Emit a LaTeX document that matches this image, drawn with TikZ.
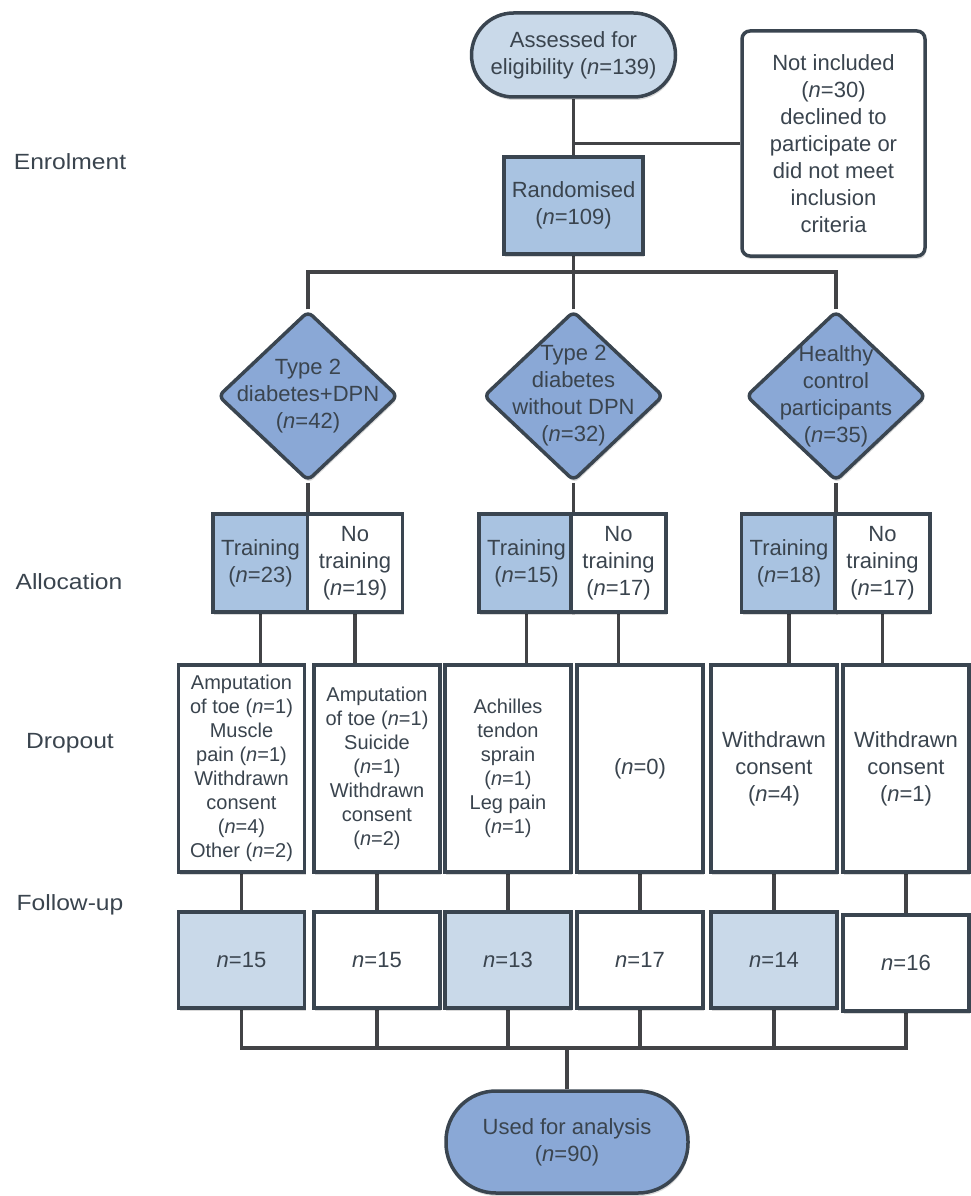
\documentclass[tikz,border=0pt]{standalone}
\usepackage{fontspec}
\setmainfont{Liberation Sans}
\newfontfamily\phasefont[FakeStretch=1.12]{Liberation Sans}
\definecolor{flowEdge}{RGB}{58,69,80}
\definecolor{flowLine}{RGB}{66,67,70}
\definecolor{flowInk}{RGB}{58,68,78}
\definecolor{flowPale}{RGB}{201,217,233}
\definecolor{flowMid}{RGB}{169,195,225}
\definecolor{flowDeep}{RGB}{138,168,214}
\usetikzlibrary{shapes.geometric,shadows,backgrounds,positioning}
\newcommand{\nval}[1]{(\textit{n}=#1)}
\newcommand{\nbare}[1]{\textit{n}=#1}

\begin{document}
\begin{tikzpicture}[x=1pt, y=-1pt,
  every node/.style={text=flowInk, align=center, font=\fontsize{22}{27}\selectfont},
  softshadow/.style={drop shadow={shadow xshift=1pt, shadow yshift=-3pt, opacity=0.15, fill=black}},
  flowbox/.style={rectangle, draw=flowEdge, line width=3.5pt, fill=white, inner sep=2pt, softshadow},
  pill/.style={flowbox, minimum width=#1},
  grpdiamond/.style={diamond, draw=flowEdge, fill=flowDeep, line width=3.5pt, rounded corners=6pt,
    minimum width=180pt, minimum height=170pt, inner sep=0pt, softshadow},
  armbox/.style={flowbox, minimum width=95pt, minimum height=98pt},
  dropbox/.style={flowbox, minimum width=126pt, minimum height=207pt},
  small/.style={font=\fontsize{20}{24}\selectfont},
  follbox/.style={flowbox, minimum width=126pt, minimum height=96pt},
  phase/.style={font=\phasefont\fontsize{22}{27}\selectfont},
  link/.style={draw=flowLine, line width=3.5pt}]
\useasboundingbox (0,0) rectangle (970,1196);

% phases
\node[phase] (phEnrol) at (70,162) {Enrolment};
\node[phase] (phAlloc) at (69,582) {Allocation};
\node[phase] (phDrop)  at (70,743) {Dropout};
\node[phase] (phFoll)  at (70,905) {Follow-up};

% enrolment
\node[flowbox, fill=flowPale, rounded corners=42pt, minimum width=204pt, minimum height=84pt]
  (assess) at (573.5,55) {Assessed for\\eligibility \nval{139}};
\node[flowbox, rounded corners=8pt, minimum width=183pt, minimum height=225pt]
  (notinc) at (833.5,143.5) {Not included\\\nval{30}\\declined to\\participate or\\did not meet\\inclusion\\criteria};
\node[flowbox, fill=flowMid, minimum width=139pt, minimum height=97pt]
  (rand) at (573.5,205.5) {Randomised\\\nval{109}};

% groups
\node[grpdiamond, label={center:Type 2\\diabetes+DPN\\\nval{42}}] (grpA) at (308,396) {};
\node[grpdiamond, label={center:Type 2\\diabetes\\without DPN\\\nval{32}}] (grpB) at (573.5,396) {};
\node[grpdiamond, label={center:Healthy\\control\\participants\\\nval{35}}] (grpC) at (836,396) {};

% allocation
\node[armbox, fill=flowMid] (trA)   at (260.5,563) {Training\\\nval{23}};
\node[armbox]               (notrA) at (355,563)   {No\\training\\\nval{19}};
\node[armbox, fill=flowMid] (trB)   at (526.5,563) {Training\\\nval{15}};
\node[armbox]               (notrB) at (618.5,563) {No\\training\\\nval{17}};
\node[armbox, fill=flowMid] (trC)   at (789,563)   {Training\\\nval{18}};
\node[armbox]               (notrC) at (882.5,563) {No\\training\\\nval{17}};

% dropout
\node[dropbox, small] (dropA1) at (241.5,768.5) {Amputation\\of toe \nval{1}\\Muscle\\pain \nval{1}\\Withdrawn\\consent\\\nval{4}\\Other \nval{2}};
\node[dropbox, small] (dropA2) at (377,768.5) {Amputation\\of toe \nval{1}\\Suicide\\\nval{1}\\Withdrawn\\consent\\\nval{2}};
\node[dropbox, small] (dropB1) at (508,768.5) {Achilles\\tendon\\sprain\\\nval{1}\\Leg pain\\\nval{1}};
\node[dropbox] (dropB2) at (640,768.5) {\nval{0}};
\node[dropbox] (dropC1) at (774,768.5) {Withdrawn\\consent\\\nval{4}};
\node[dropbox] (dropC2) at (906,768.5) {Withdrawn\\consent\\\nval{1}};

% follow-up
\node[follbox, fill=flowPale] (follA1) at (241.5,960) {\nbare{15}};
\node[follbox]                (follA2) at (377,960)   {\nbare{15}};
\node[follbox, fill=flowPale] (follB1) at (508,960)   {\nbare{13}};
\node[follbox]                (follB2) at (640,960)   {\nbare{17}};
\node[follbox, fill=flowPale] (follC1) at (774,960)   {\nbare{14}};
\node[follbox]                (follC2) at (906,963)   {\nbare{16}};

% analysis
\node[flowbox, fill=flowDeep, rounded corners=50pt, minimum width=242pt, minimum height=102pt]
  (used) at (567,1142) {Used for analysis\\\nval{90}};

\coordinate (splitY) at (0,272);
\coordinate (mergeY) at (0,1048);

\begin{scope}[on background layer]
  \draw[link] (assess.south) -- (rand.north);
  \draw[link] (notinc.west) -- (notinc.west -| assess.south);
  \draw[link] (rand.south) -- (rand.south |- splitY);
  \draw[link] (grpA.north) -- (grpA.north |- splitY) -- (grpC.north |- splitY) -- (grpC.north);
  \draw[link] (grpB.north) -- (grpB.north |- splitY);
  \draw[link] (grpA.south) -- (grpA.south |- trA.north);
  \draw[link] (grpB.south) -- (grpB.south |- trB.north);
  \draw[link] (grpC.south) -- (grpC.south |- trC.north);
  \draw[link] (trA.south) -- (trA.south |- dropA1.north);
  \draw[link] (notrA.south) -- (notrA.south |- dropA2.north);
  \draw[link] (trB.south) -- (trB.south |- dropB1.north);
  \draw[link] (notrB.south) -- (notrB.south |- dropB2.north);
  \draw[link] (trC.south) -- (trC.south |- dropC1.north);
  \draw[link] (notrC.south) -- (notrC.south |- dropC2.north);
  \draw[link] (dropA1.south) -- (follA1.north);
  \draw[link] (dropA2.south) -- (follA2.north);
  \draw[link] (dropB1.south) -- (follB1.north);
  \draw[link] (dropB2.south) -- (follB2.north);
  \draw[link] (dropC1.south) -- (follC1.north);
  \draw[link] (dropC2.south) -- (follC2.north);
  \draw[link] (follA1.south) -- (follA1.south |- mergeY) -- (follC2.south |- mergeY) -- (follC2.south);
  \draw[link] (follA2.south) -- (follA2.south |- mergeY);
  \draw[link] (follB1.south) -- (follB1.south |- mergeY);
  \draw[link] (follB2.south) -- (follB2.south |- mergeY);
  \draw[link] (follC1.south) -- (follC1.south |- mergeY);
  \draw[link] (used.north) -- (used.north |- mergeY);
\end{scope}
\end{tikzpicture}
\end{document}
